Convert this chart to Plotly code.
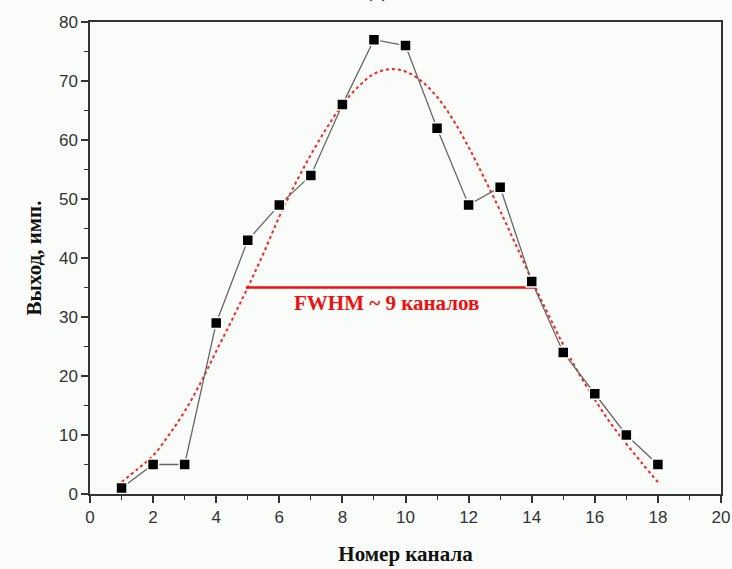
import plotly.graph_objects as go

channels = list(range(1, 19))
counts = [1, 5, 5, 29, 43, 49, 54, 66, 77, 76, 62, 49, 52, 36, 24, 17, 10, 5]

fit_x = [1, 1.5, 2, 2.5, 3, 3.5, 4, 4.5, 5, 5.5, 6, 6.5, 7, 7.5, 8, 8.5, 9, 9.5,
         10, 10.5, 11, 11.5, 12, 12.5, 13, 13.5, 14, 14.5, 15, 15.5, 16, 16.5, 17, 17.5, 18]
fit_y = [2.0, 4.2, 6.5, 10.0, 14.0, 18.8, 24.2, 29.5, 35.0, 40.8, 47.0, 52.5, 57.5, 62.0,
         66.0, 69.0, 71.2, 72.0, 71.6, 70.0, 67.3, 63.5, 58.8, 53.5, 48.0, 42.2, 36.3,
         30.7, 25.3, 20.4, 16.0, 12.0, 8.5, 5.2, 2.0]

fwhm_x = [4.94, 14.15]
fwhm_y = [35, 35]
fwhm_label = "FWHM ~ 9 каналов"

x_ticks = list(range(0, 21, 2))
y_ticks = list(range(0, 81, 10))

bg = "#fafcfa"
fig = go.Figure()

fig.add_trace(go.Scatter(x=fit_x, y=fit_y, mode="lines",
                         line=dict(color="#ff2020", width=2, dash="dot", shape="spline"),
                         hoverinfo="skip"))
fig.add_trace(go.Scatter(x=fwhm_x, y=fwhm_y, mode="lines",
                         line=dict(color="#ee1111", width=2.5)))
fig.add_trace(go.Scatter(x=channels, y=counts, mode="lines+markers",
                         line=dict(color="#666666", width=1.3),
                         marker=dict(symbol="square", size=11, color="black",
                                     line=dict(color=bg, width=1.5))))

fig.add_annotation(x=9.4, y=32.4, text="<b>" + fwhm_label + "</b>", showarrow=False,
                   yanchor="middle", font=dict(family="Liberation Serif", size=21, color="#ee1111"))
fig.add_annotation(x=0.455, y=1.038, xref="paper", yref="paper", text="(a)", showarrow=False,
                   yanchor="bottom", font=dict(family="Liberation Serif", size=20, color="black"))

axis_common = dict(showgrid=False, zeroline=False, showline=True, linecolor="#333333",
                   linewidth=1.5, mirror=True, ticks="outside", ticklen=7, tickwidth=1.5,
                   tickcolor="#333333", ticklabeloverflow="allow", automargin=False,
                   tickfont=dict(family="Liberation Sans", size=17, color="#333333"))

fig.update_xaxes(range=[0, 20], tickvals=x_ticks,
                 minor=dict(dtick=1, ticks="outside", ticklen=4, tickwidth=1.2, tickcolor="#333333"),
                 title=dict(text="<b>Номер канала</b>", standoff=20,
                            font=dict(family="Liberation Serif", size=21, color="#111111")),
                 **axis_common)
fig.update_yaxes(range=[0, 80], tickvals=y_ticks,
                 minor=dict(dtick=5, ticks="outside", ticklen=4, tickwidth=1.2, tickcolor="#333333"),
                 title=dict(text="<b>Выход, имп.</b>", standoff=12,
                            font=dict(family="Liberation Serif", size=21, color="#111111")),
                 **axis_common)

fig.update_layout(width=732, height=569, showlegend=False,
                  margin=dict(l=90, r=11, t=22, b=75),
                  paper_bgcolor=bg, plot_bgcolor=bg)

fig.write_html("out.html")
